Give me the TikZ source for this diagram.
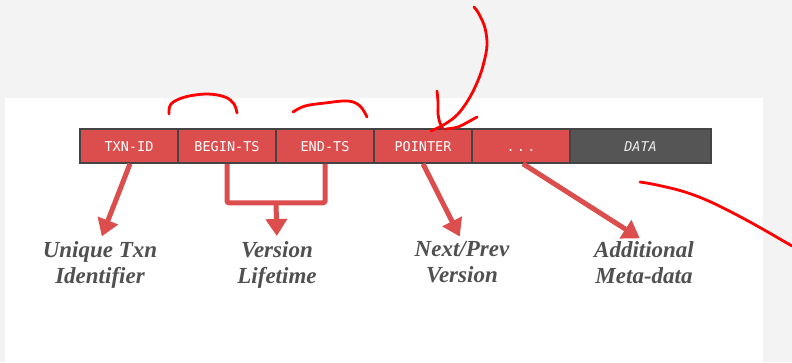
\documentclass[tikz,border=0pt]{standalone}
\usepackage{fontspec}
\setmainfont{Liberation Serif}
\setmonofont{DejaVu Sans Mono}
\usetikzlibrary{arrows.meta,calc}

\definecolor{pagebg}{HTML}{F3F3F3}
\definecolor{cellred}{HTML}{DC4E4E}
\definecolor{celldark}{HTML}{555555}
\definecolor{cellrule}{HTML}{444444}
\definecolor{labelgray}{HTML}{505050}
\definecolor{inkred}{HTML}{FF0000}

\tikzset{
  cell/.style={draw=cellrule, line width=1.6pt, fill=cellred, minimum width=98pt,
    minimum height=34pt, inner sep=0pt, text height=10pt, text depth=0pt, text=white,
    font=\ttfamily\fontsize{13.5}{15}\selectfont},
  datacell/.style={cell, fill=celldark, minimum width=141pt, text=white!92!black,
    font=\ttfamily\itshape\fontsize{13.5}{15}\selectfont},
  caption/.style={anchor=north, inner sep=0pt, align=center, text=labelgray,
    font=\bfseries\itshape\fontsize{23}{26}\selectfont},
  pointer/.style={draw=cellred, line width=5pt,
    -{Triangle[width=21pt,length=17pt]}, shorten >=5pt},
  bracket/.style={draw=cellred, line width=5pt, rounded corners=2pt},
  ink/.style={draw=inkred, line width=2.8pt, line cap=round, line join=round},
}

\begin{document}
\begin{tikzpicture}[x=1pt, y=-1pt]
  % page and slide area
  \fill[pagebg] (0,0) rectangle (792,362);
  \fill[white] (4.5,98) rectangle (763,362);
  \useasboundingbox (0,0) rectangle (792,362);

  % tuple header fields
  \node[cell] (txn)   at (129,146)   {TXN-ID};
  \node[cell] (begin) at (227,146)   {BEGIN-TS};
  \node[cell] (end)   at (325,146)   {END-TS};
  \node[cell] (ptr)   at (423,146)   {POINTER};
  \node[cell] (etc)   at (521,146)   {.\,.\,.};
  \node[datacell] (data) at (640.5,146) {DATA};

  % captions
  \node[caption] (capid)   at (100,241) {Unique Txn\\Identifier};
  \node[caption] (caplife) at (277,241) {Version\\Lifetime};
  \node[caption] (capver)  at (462,241) {Next/Prev\\Version};
  \node[caption] (capmeta) at (644,241) {Additional\\Meta-data};

  % connectors
  \draw[pointer] ([xshift=1pt]txn.south) -- (capid.north);
  \draw[bracket] (begin.south) -- ++(0,39) coordinate (bl) -| (end.south);
  \coordinate (bmid) at ($(bl)!0.5!(bl -| end.south)$);
  \draw[pointer] (bmid) -- (caplife.north);
  \draw[pointer] (ptr.south) -- (capver.north);
  \draw[pointer] ([xshift=2pt]etc.south) -- (capmeta.north);

  % hand-drawn annotations
  \draw[ink] plot[smooth, tension=0.6] coordinates
    {(169,114) (171,104) (185,97) (207,94) (225,97) (234,104) (237,113)};
  \draw[ink] plot[smooth, tension=0.6] coordinates
    {(293,112) (305,106) (325,103) (348,101) (360,106) (367,117)};
  \draw[ink] plot[smooth, tension=0.6] coordinates
    {(474,7) (479,14) (485,28) (487,45) (484,62) (479,78) (470,97) (458,114) (445,124) (431,131)};
  \draw[ink] plot[smooth, tension=0.6] coordinates
    {(437,91) (438,102) (438,114) (440,123) (443,129)};
  \draw[ink] plot[smooth, tension=0.6] coordinates
    {(477,117) (468,122) (458,127) (446,129)};
  \draw[ink] plot[smooth, tension=0.6] coordinates
    {(640,182) (657,185) (685,192) (713,203) (750,222) (792,246)};
\end{tikzpicture}
\end{document}
